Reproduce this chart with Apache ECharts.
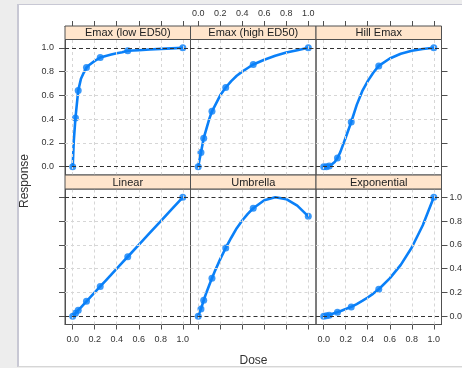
<!DOCTYPE html>
<html>
<head>
<meta charset="utf-8">
<script src="https://cdn.jsdelivr.net/npm/echarts@6.0.0/dist/echarts.min.js"></script>
<style>
  html, body { margin: 0; padding: 0; }
  body { width: 462px; height: 368px; background: #ededed; position: relative; overflow: hidden; }
  #paper { position: absolute; left: 17px; top: 4px; width: 445px; height: 361px; background: #fff;
           border-left: 2px solid #c8c8d4; border-top: 1px solid #c8c8d4; border-bottom: 1px solid #d6d6d6; }
  #main { position: absolute; left: 0; top: 0; width: 462px; height: 368px; }
</style>
</head>
<body>
<div id="paper"></div>
<div id="main"></div>
<script>
// panel names, top-left first
const models = ['Emax (low ED50)', 'Emax (high ED50)', 'Hill Emax', 'Linear', 'Umbrella', 'Exponential']

// doses with observed points
const doses = [0, 0.025, 0.05, 0.125, 0.25, 0.5, 1]
const emaxLowPts = [0, 0.41, 0.64, 0.834, 0.918, 0.975, 1]
const emaxHighPts = [0, 0.12, 0.24, 0.466, 0.666, 0.86, 1]
const hillPts = [0, 0, 0.006, 0.073, 0.376, 0.848, 1]
const linearPts = [0, 0.025, 0.05, 0.125, 0.25, 0.5, 1]
const umbrellaPts = [0, 0.06, 0.134, 0.32, 0.574, 0.908, 0.84]
const expPts = [0, 0.003, 0.008, 0.034, 0.078, 0.227, 1]

// fitted curves
const curveDoses = [0, 0.01, 0.025, 0.05, 0.075, 0.1, 0.125, 0.15, 0.2, 0.25, 0.3, 0.35, 0.4, 0.45, 0.5, 0.6, 0.7, 0.8, 0.9, 1]
const emaxLowCurve = [0, 0.22, 0.41, 0.64, 0.74, 0.79, 0.834, 0.855, 0.89, 0.918, 0.932, 0.943, 0.955, 0.962, 0.975, 0.98, 0.986, 0.991, 0.995, 1]
const emaxHighCurve = [0, 0.05, 0.12, 0.24, 0.32, 0.4, 0.466, 0.51, 0.6, 0.666, 0.72, 0.765, 0.8, 0.83, 0.86, 0.9, 0.933, 0.96, 0.98, 1]
const hillCurve = [0, 0, 0, 0.006, 0.02, 0.04, 0.073, 0.12, 0.245, 0.376, 0.52, 0.635, 0.72, 0.79, 0.848, 0.91, 0.95, 0.975, 0.99, 1]
const linearCurve = [0, 0.01, 0.025, 0.05, 0.075, 0.1, 0.125, 0.15, 0.2, 0.25, 0.3, 0.35, 0.4, 0.45, 0.5, 0.6, 0.7, 0.8, 0.9, 1]
const umbrellaCurve = [0, 0.027, 0.06, 0.134, 0.2, 0.26, 0.32, 0.375, 0.48, 0.574, 0.66, 0.74, 0.805, 0.86, 0.908, 0.975, 1.0, 0.985, 0.93, 0.84]
const expCurve = [0, 0.002, 0.003, 0.008, 0.018, 0.026, 0.034, 0.042, 0.06, 0.078, 0.102, 0.128, 0.157, 0.19, 0.227, 0.318, 0.432, 0.578, 0.765, 1]

const tickValues = [0, 0.2, 0.4, 0.6, 0.8, 1.0]
const refLevels = [0, 1]

const pts = [emaxLowPts, emaxHighPts, hillPts, linearPts, umbrellaPts, expPts]
const curves = [emaxLowCurve, emaxHighCurve, hillCurve, linearCurve, umbrellaCurve, expCurve]

// layout (px)
const colLeft = [65, 190.5, 316]
const panelW = 125.5
const panelTop = [39.5, 189]
const panelH = 135.5
const stripH = [13.5, 14]
const font = 'Liberation Sans, Arial, sans-serif'
const blue = '#0a80f8'
const frameCol = '#505050'

const grids = [], xAxes = [], yAxes = [], series = [], graphics = []

models.forEach((name, i) => {
  const r = Math.floor(i / 3)
  const c = i % 3
  grids.push({
    left: colLeft[c], top: panelTop[r], width: panelW, height: panelH,
    show: true, borderColor: frameCol, borderWidth: 1,
    containLabel: false, outerBoundsMode: 'none'
  })
  const showXLab = (r === 0 && c === 1) || (r === 1 && c !== 1)
  xAxes.push({
    gridIndex: i, type: 'value', min: -0.07, max: 1.07,
    position: r === 0 ? 'top' : 'bottom',
    // top axis sits above the strip
    offset: r === 0 ? stripH[0] : 0,
    axisLine: { show: true, onZero: false, lineStyle: { color: frameCol } },
    axisTick: { show: true, customValues: tickValues, length: 5, lineStyle: { color: frameCol } },
    axisLabel: {
      show: showXLab, customValues: tickValues, formatter: v => v.toFixed(1),
      fontSize: 9, color: '#333', fontFamily: font, margin: r === 0 ? 8 : 11
    },
    splitLine: { show: false }
  })
  const showYTick = c !== 1
  const showYLab = (c === 0 && r === 0) || (c === 2 && r === 1)
  yAxes.push({
    gridIndex: i, type: 'value', min: -0.07, max: 1.07,
    position: c === 2 ? 'right' : 'left',
    axisLine: { show: true, onZero: false, lineStyle: { color: frameCol } },
    axisTick: { show: showYTick, customValues: tickValues, length: 6, lineStyle: { color: frameCol } },
    axisLabel: {
      show: showYLab, customValues: tickValues, formatter: v => v.toFixed(1),
      fontSize: 9, color: '#333', fontFamily: font, margin: c === 0 ? 11 : 8
    },
    splitLine: { show: false }
  })

  // background grid + reference lines
  const gridLines = tickValues.map(v => ({ xAxis: v }))
    .concat(tickValues.filter(v => v > 0 && v < 1).map(v => ({ yAxis: v })))
  const refLines = refLevels.map(v => ({ yAxis: v, lineStyle: { color: '#333', type: [4, 3], width: 1 } }))
  series.push({
    type: 'line', xAxisIndex: i, yAxisIndex: i, data: [], silent: true, z: 1,
    markLine: {
      silent: true, symbol: ['none', 'none'], label: { show: false }, animation: false,
      lineStyle: { color: '#d6d6d6', type: [3, 3], width: 1 },
      data: gridLines.concat(refLines)
    }
  })
  series.push({
    type: 'line', xAxisIndex: i, yAxisIndex: i, z: 3,
    data: curveDoses.map((d, k) => [d, curves[i][k]]),
    smooth: false, showSymbol: false,
    lineStyle: { color: blue, width: 2.6, join: 'round', cap: 'round' }
  })
  series.push({
    type: 'scatter', xAxisIndex: i, yAxisIndex: i, z: 4,
    data: doses.map((d, k) => [d, pts[i][k]]),
    symbolSize: 7, itemStyle: { color: blue }
  })

  // strip
  const sTop = panelTop[r] - stripH[r]
  graphics.push({
    type: 'rect', z: 10,
    shape: { x: colLeft[c], y: sTop, width: panelW, height: stripH[r] },
    style: { fill: '#ffe5cc', stroke: frameCol, lineWidth: 1 }
  })
  graphics.push({
    type: 'text', z: 11, x: colLeft[c] + panelW / 2, y: sTop + stripH[r] / 2 + 0.5,
    style: {
      text: name, fill: '#222', font: '11px ' + font,
      align: 'center', verticalAlign: 'middle', textAlign: 'center', textVerticalAlign: 'middle'
    }
  })
})

// axis titles
graphics.push({
  type: 'text', x: 24.5, y: 181, rotation: Math.PI / 2,
  style: {
    text: 'Response', fill: '#333', font: '12px ' + font,
    align: 'center', verticalAlign: 'middle', textAlign: 'center', textVerticalAlign: 'middle'
  }
})
graphics.push({
  type: 'text', x: 253.5, y: 361,
  style: {
    text: 'Dose', fill: '#333', font: '12px ' + font,
    align: 'center', verticalAlign: 'middle', textAlign: 'center', textVerticalAlign: 'middle'
  }
})

const myChart = echarts.init(document.getElementById('main'))
myChart.setOption({
  animation: false,
  backgroundColor: 'transparent',
  grid: grids,
  xAxis: xAxes,
  yAxis: yAxes,
  series: series,
  graphic: graphics
})
</script>
</body>
</html>
